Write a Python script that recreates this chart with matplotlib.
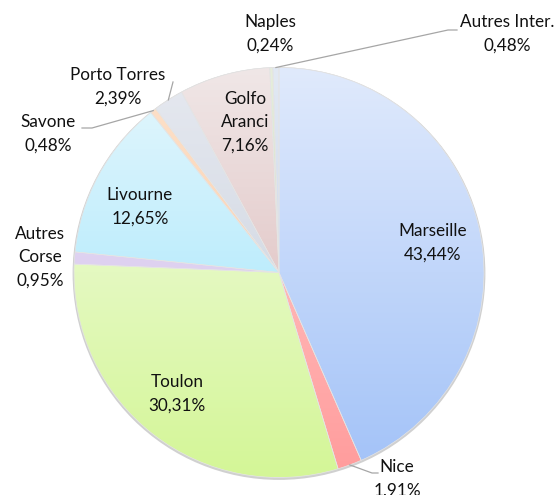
import numpy as np
import matplotlib.pyplot as plt
from matplotlib.colors import LinearSegmentedColormap
from matplotlib.patches import Ellipse

plt.rcParams['font.family'] = ['Lato', 'DejaVu Sans']

# share of passengers by port, clockwise from 12 o'clock
ports = ["Marseille", "Nice", "Toulon", "Autres\nCorse", "Livourne", "Savone",
         "Porto Torres", "Golfo\nAranci", "Naples", "Autres Inter."]
shares = [43.44, 1.91, 30.31, 0.95, 12.65, 0.48, 2.39, 7.16, 0.24, 0.48]

# gradient colours (top, bottom) per slice
top_colors = ["#e0eafc", "#ffd2d2", "#f4fce9", "#e8def4", "#e6f7fd", "#fde2cc",
              "#e6e9f0", "#f0e7e7", "#e6eedc", "#e2e9f4"]
bottom_colors = ["#a2c2f8", "#ff9c9c", "#d4f697", "#d4c4ec", "#96e3fb", "#fbc69c",
                 "#c6cedb", "#d8b0b0", "#c6d6b6", "#bfcbe0"]

W, H = 560, 495
cx, cy, r = 279, 272.5, 205


def px(x, y):
    # pixel position -> data coords of the pie axes
    return (x - cx) / r, (cy - y) / r


fig = plt.figure(figsize=(W / 100, H / 100), dpi=100)
ax = fig.add_axes([(cx - r) / W, (H - cy - r) / H, 2 * r / W, 2 * r / H])

wedges, _ = ax.pie(shares, startangle=90, counterclock=False, radius=1,
                   wedgeprops=dict(edgecolor="#e4e4e4", linewidth=0.5, facecolor="none"))
ax.set_aspect('auto')
ax.set_xlim(-1, 1)
ax.set_ylim(-1, 1)
ax.axis('off')

shadow = Ellipse((0, -0.005), 2.0, 2.0, facecolor="none", edgecolor="#d0d0d0",
                 linewidth=2.0, zorder=0.5, clip_on=False)
ax.add_patch(shadow)

grad = np.linspace(0, 1, 256).reshape(-1, 1)
for w, c0, c1 in zip(wedges, top_colors, bottom_colors):
    cmap = LinearSegmentedColormap.from_list("g", [c1, c0])
    im = ax.imshow(grad, cmap=cmap, extent=(-1, 1, -1, 1), origin='lower',
                   aspect='auto', zorder=1.5)
    im.set_clip_path(w)
    w.set_zorder(2)
    w.set_clip_on(False)

pct = [f"{v:.2f}".replace(".", ",") + "%" for v in shares]

# label centres in pixels
label_pos = [(433, 243), (397, 479), (177, 394), (40, 257), (140, 207),
             (48, 134), (118, 87), (245, 122), (270, 34), (507, 34)]
for name, p, (x, y) in zip(ports, pct, label_pos):
    tx, ty = px(x, y)
    ax.text(tx, ty, f"{name}\n{p}", ha='center', va='center', fontsize=12.3,
            linespacing=1.55, color="#111111", clip_on=False)

# leader lines: from wedge middle on the rim to an elbow, then to the text
leaders = {1: [(372, 473), (378, 473)],
           5: [(92, 128), (82, 128)],
           6: [(173, 82)],
           9: [(448, 30), (457, 30)]}
for i, pts in leaders.items():
    w = wedges[i]
    mid = np.deg2rad((w.theta1 + w.theta2) / 2)
    xs = [np.cos(mid)] + [px(*q)[0] for q in pts]
    ys = [np.sin(mid)] + [px(*q)[1] for q in pts]
    ax.plot(xs, ys, color="#a6a6a6", linewidth=0.9, clip_on=False, zorder=3)

fig.savefig("out.png", dpi=100)
